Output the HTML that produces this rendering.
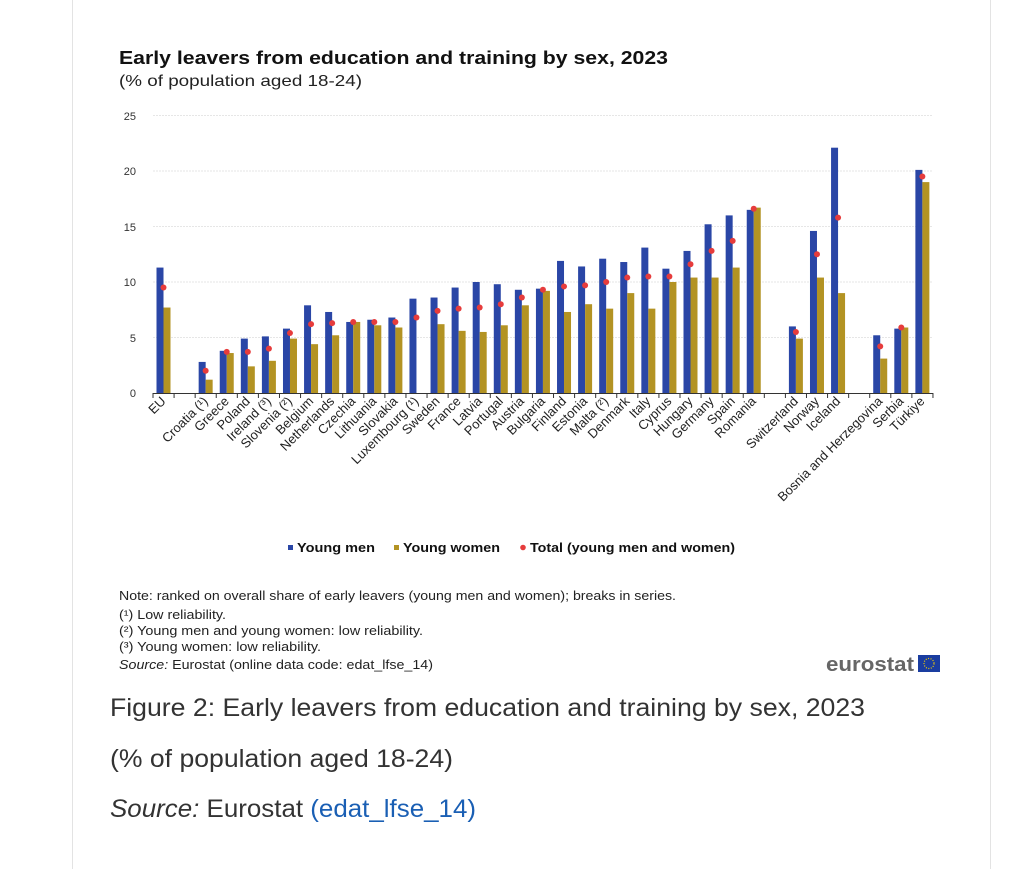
<!DOCTYPE html>
<html><head><meta charset="utf-8"><style>
body{margin:0;background:#fff;width:1024px;height:869px;overflow:hidden;font-family:"Liberation Sans",sans-serif;}
</style></head><body>
<svg width="1024" height="869" xmlns="http://www.w3.org/2000/svg" style="position:absolute;left:0;top:0" font-family="Liberation Sans, sans-serif">
<line x1="72.5" y1="0" x2="72.5" y2="869" stroke="#e3e3e3"/>
<line x1="990.5" y1="0" x2="990.5" y2="869" stroke="#e3e3e3"/>
<text x="119" y="64" font-size="18.5" font-weight="bold" fill="#111" textLength="549" lengthAdjust="spacingAndGlyphs">Early leavers from education and training by sex, 2023</text>
<text x="119" y="86" font-size="16" fill="#222" textLength="243" lengthAdjust="spacingAndGlyphs">(% of population aged 18-24)</text>
<g font-size="11" fill="#333" text-anchor="end">
<text x="136" y="120">25</text><text x="136" y="175">20</text><text x="136" y="231">15</text><text x="136" y="286">10</text><text x="136" y="342">5</text><text x="136" y="397">0</text>
</g>
<g stroke="#e6e6e6" stroke-width="1" stroke-dasharray="2,1">
<line x1="153" x2="933" y1="115.5" y2="115.5"/><line x1="153" x2="933" y1="171" y2="171"/><line x1="153" x2="933" y1="226.5" y2="226.5"/><line x1="153" x2="933" y1="282" y2="282"/><line x1="153" x2="933" y1="337.5" y2="337.5"/>
</g>
<g id="bars"></g>
<line x1="153" x2="933" y1="393.5" y2="393.5" stroke="#333"/>
<g id="ticks" stroke="#333"></g>
<g font-size="13" fill="#222" text-anchor="end">
<text transform="translate(166.5,402) rotate(-45)">EU</text>
<text transform="translate(208.7,402) rotate(-45)">Croatia (¹)</text>
<text transform="translate(229.7,402) rotate(-45)">Greece</text>
<text transform="translate(250.8,402) rotate(-45)">Poland</text>
<text transform="translate(271.9,402) rotate(-45)">Ireland (³)</text>
<text transform="translate(293,402) rotate(-45)">Slovenia (²)</text>
<text transform="translate(314.1,402) rotate(-45)">Belgium</text>
<text transform="translate(335.1,402) rotate(-45)">Netherlands</text>
<text transform="translate(356.2,402) rotate(-45)">Czechia</text>
<text transform="translate(377.3,402) rotate(-45)">Lithuania</text>
<text transform="translate(398.4,402) rotate(-45)">Slovakia</text>
<text transform="translate(419.5,402) rotate(-45)">Luxembourg (¹)</text>
<text transform="translate(440.5,402) rotate(-45)">Sweden</text>
<text transform="translate(461.6,402) rotate(-45)">France</text>
<text transform="translate(482.7,402) rotate(-45)">Latvia</text>
<text transform="translate(503.8,402) rotate(-45)">Portugal</text>
<text transform="translate(524.9,402) rotate(-45)">Austria</text>
<text transform="translate(545.9,402) rotate(-45)">Bulgaria</text>
<text transform="translate(567,402) rotate(-45)">Finland</text>
<text transform="translate(588.1,402) rotate(-45)">Estonia</text>
<text transform="translate(609.2,402) rotate(-45)">Malta (²)</text>
<text transform="translate(630.3,402) rotate(-45)">Denmark</text>
<text transform="translate(651.3,402) rotate(-45)">Italy</text>
<text transform="translate(672.4,402) rotate(-45)">Cyprus</text>
<text transform="translate(693.5,402) rotate(-45)">Hungary</text>
<text transform="translate(714.6,402) rotate(-45)">Germany</text>
<text transform="translate(735.7,402) rotate(-45)">Spain</text>
<text transform="translate(756.7,402) rotate(-45)">Romania</text>
<text transform="translate(798.9,402) rotate(-45)">Switzerland</text>
<text transform="translate(820,402) rotate(-45)">Norway</text>
<text transform="translate(841.1,402) rotate(-45)">Iceland</text>
<text transform="translate(883.2,402) rotate(-45)">Bosnia and Herzegovina</text>
<text transform="translate(904.3,402) rotate(-45)">Serbia</text>
<text transform="translate(925.4,402) rotate(-45)">Türkiye</text>
</g>
<g font-size="12.5" font-weight="bold" fill="#111">
<rect x="288" y="545" width="5" height="5" fill="#2a46a6"/><text x="297" y="552" textLength="78" lengthAdjust="spacingAndGlyphs">Young men</text>
<rect x="394" y="545" width="5" height="5" fill="#b39323"/><text x="403" y="552" textLength="97" lengthAdjust="spacingAndGlyphs">Young women</text>
<circle cx="523" cy="547.5" r="2.8" fill="#e63c3c"/><text x="530" y="552" textLength="205" lengthAdjust="spacingAndGlyphs">Total (young men and women)</text>
</g>
<g font-size="12.5" fill="#222">
<text x="119" y="600" textLength="557" lengthAdjust="spacingAndGlyphs">Note: ranked on overall share of early leavers (young men and women); breaks in series.</text>
<text x="119" y="619" textLength="107" lengthAdjust="spacingAndGlyphs">(¹) Low reliability.</text>
<text x="119" y="635" textLength="304" lengthAdjust="spacingAndGlyphs">(²) Young men and young women: low reliability.</text>
<text x="119" y="651" textLength="202" lengthAdjust="spacingAndGlyphs">(³) Young women: low reliability.</text>
<text x="119" y="669" textLength="314" lengthAdjust="spacingAndGlyphs"><tspan font-style="italic">Source:</tspan> Eurostat (online data code: edat_lfse_14)</text>
</g>
<text x="826" y="671" font-size="20" font-weight="bold" fill="#666" textLength="88" lengthAdjust="spacingAndGlyphs">eurostat</text>
<rect x="918" y="655" width="22" height="17" fill="#1a3da0"/>
<circle cx="929" cy="663.5" r="5" fill="none" stroke="#f5d000" stroke-width="1.2" stroke-dasharray="1,1.5"/>
<g font-size="25" fill="#333">
<text x="110" y="716" textLength="755" lengthAdjust="spacingAndGlyphs">Figure 2: Early leavers from education and training by sex, 2023</text>
<text x="110" y="767" textLength="343" lengthAdjust="spacingAndGlyphs">(% of population aged 18-24)</text>
<text x="110" y="817" textLength="366" lengthAdjust="spacingAndGlyphs"><tspan font-style="italic">Source:</tspan> Eurostat <tspan fill="#1a5fb4">(edat_lfse_14)</tspan></text>
</g>
</svg>
<script>
var d=[[0,11.3,7.7,9.5],[2,2.8,1.2,2.0],[3,3.8,3.6,3.7],[4,4.9,2.4,3.7],[5,5.1,2.9,4.0],[6,5.8,4.9,5.4],[7,7.9,4.4,6.2],[8,7.3,5.2,6.3],[9,6.4,6.4,6.4],[10,6.6,6.1,6.4],[11,6.8,5.9,6.4],[12,8.5,0,6.8],[13,8.6,6.2,7.4],[14,9.5,5.6,7.6],[15,10.0,5.5,7.7],[16,9.8,6.1,8.0],[17,9.3,7.9,8.6],[18,9.4,9.2,9.3],[19,11.9,7.3,9.6],[20,11.4,8.0,9.7],[21,12.1,7.6,10.0],[22,11.8,9.0,10.4],[23,13.1,7.6,10.5],[24,11.2,10.0,10.5],[25,12.8,10.4,11.6],[26,15.2,10.4,12.8],[27,16.0,11.3,13.7],[28,16.5,16.7,16.6],[30,6.0,4.9,5.5],[31,14.6,10.4,12.5],[32,22.1,9.0,15.8],[34,5.2,3.1,4.2],[35,5.8,5.9,5.9],[36,20.1,19.0,19.5]];
var s=21.08,x0=153,y0=393,k=11.1,h='',t='';
for(var i=0;i<=37;i++){var x=x0+s*i;t+='<line x1="'+x+'" x2="'+x+'" y1="393" y2="398"/>';}
d.forEach(function(r){var x=x0+s*r[0];
h+='<rect x="'+(x+3.5)+'" y="'+(y0-r[1]*k)+'" width="7" height="'+r[1]*k+'" fill="#2a46a6"/>';
if(r[2])h+='<rect x="'+(x+10.5)+'" y="'+(y0-r[2]*k)+'" width="7" height="'+r[2]*k+'" fill="#b39323"/>';
h+='<circle cx="'+(x+10.5)+'" cy="'+(y0-r[3]*k)+'" r="3" fill="#e63c3c"/>';});
document.getElementById('bars').innerHTML=h;document.getElementById('ticks').innerHTML=t;
</script>
</body></html>
